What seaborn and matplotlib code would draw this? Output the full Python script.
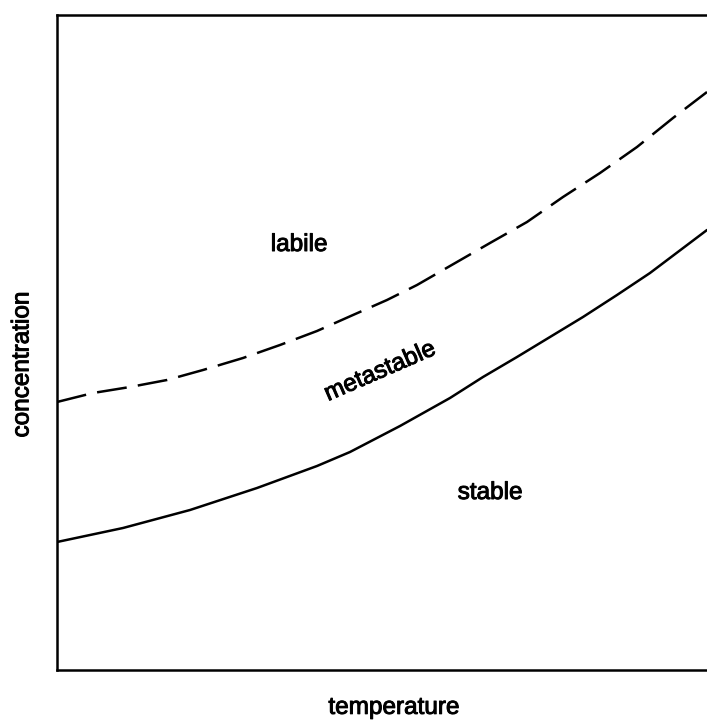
import numpy as np
import matplotlib
matplotlib.use("Agg")
import matplotlib.pyplot as plt
import matplotlib.patheffects as pe
import seaborn as sns

# =========================
# DATA (arbitrary units)
# =========================
temp_labile = [0, 36, 73, 110, 146, 186, 223, 260, 296, 330, 360, 393,
               433, 470, 506, 543, 580, 616, 650]
conc_labile = [268, 277, 283, 290, 300, 312, 325, 339, 355, 370, 385, 404,
               427, 448, 473, 497, 523, 552, 578]

temp_solubility = [0, 66, 133, 200, 260, 293, 343, 393, 426, 460, 493, 526,
                   560, 593, 650]
conc_solubility = [128, 142, 160, 182, 204, 218, 244, 272, 293, 313, 333, 353,
                   375, 397, 440]

region_labels = ["labile", "metastable", "stable"]
region_x = [242, 323, 433]
region_y = [425, 298, 177]
region_rot = [0, 23.5, 0]

# =========================
# STYLE
# =========================
sns.set_style("white")
plt.rcParams['font.family'] = ['Liberation Sans', 'DejaVu Sans']
plt.rcParams['text.color'] = 'black'
plt.rcParams['axes.labelcolor'] = 'black'

FS = 17.5
LW = 1.8
heavy = [pe.withStroke(linewidth=0.7, foreground="black")]

fig = plt.figure(figsize=(7.07, 7.22), dpi=100)
ax = fig.add_axes([57 / 707, 1 - 670 / 722, (712 - 57) / 707, (670 - 15) / 722])

sns.lineplot(x=temp_labile, y=conc_labile, ax=ax, color="black",
             linewidth=LW, linestyle=(0, (12, 4.5)), sort=False)
sns.lineplot(x=temp_solubility, y=conc_solubility, ax=ax, color="black",
             linewidth=LW, sort=False)

for lab, x, y, r in zip(region_labels, region_x, region_y, region_rot):
    ax.text(x, y, lab, fontsize=FS, ha="center", va="center", rotation=r,
            rotation_mode="anchor", path_effects=heavy)

ax.set_xlim(0, 655)
ax.set_ylim(0, 655)
ax.set_xticks([])
ax.set_yticks([])
ax.set_xlabel("temperature", fontsize=FS, path_effects=heavy)
ax.set_ylabel("concentration", fontsize=FS, path_effects=heavy)
ax.xaxis.set_label_coords(0.514, -0.041)
ax.yaxis.set_label_coords(-0.036, 0.466)

for s in ax.spines.values():
    s.set_color("black")
    s.set_linewidth(LW)

fig.savefig("out.png", dpi=100)
